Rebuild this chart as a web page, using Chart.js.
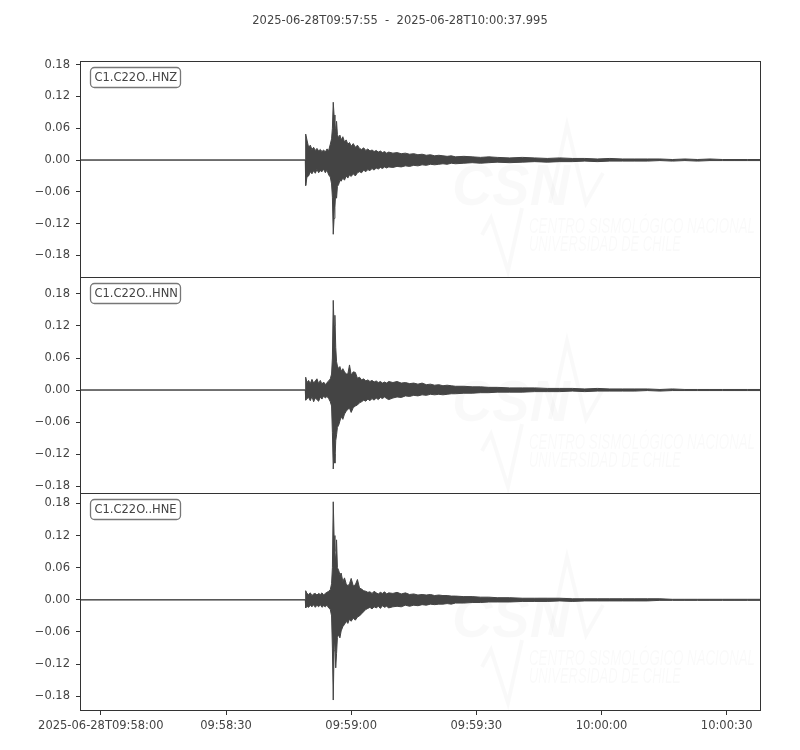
<!DOCTYPE html>
<html>
<head>
<meta charset="utf-8">
<script src="https://cdn.jsdelivr.net/npm/chart.js@4.4.0/dist/chart.umd.min.js"></script>
<style>
  body { margin: 0; background: #fff; }
  #wrap { position: relative; width: 800px; height: 750px; }
  #wrap canvas { position: absolute; left: 0; top: 0; }
</style>
</head>
<body>
<div id="wrap">
  <canvas id="hnz" width="800" height="750"></canvas>
  <canvas id="hnn" width="800" height="750"></canvas>
  <canvas id="hne" width="800" height="750"></canvas>
</div>
<script>
// seconds after 2025-06-28T09:57:55, envelope of each trace
const secs = [
  0, 54.0,
  54.1, 54.4,
  54.8, 55.2, 55.6, 56.0, 56.4, 56.8, 57.2, 57.6, 58.0, 58.4, 58.8, 59.2, 59.6, 60.0,
  60.3, 60.5, 60.7, 60.9, 61.1, 61.3, 61.5, 61.7,
  62.0, 62.3, 62.6,
  63.0, 63.4, 63.8, 64.2, 64.6, 65.0,
  65.5, 66.0, 66.5, 67.0, 67.5, 68.0, 68.5, 69.0, 69.5, 70.0, 70.5, 71.0, 71.5, 72.0, 72.5, 73.0, 73.5, 74.0,
  75, 76, 77, 78, 79, 80, 81, 82, 83, 84, 85, 86, 87, 88, 89, 90,
  92, 94, 96, 98, 100,
  103, 106, 109, 112, 115, 118, 121, 124, 127, 130, 133, 136, 139, 142, 145, 148, 151, 154, 157, 160, 163
];

const hnzHigh = [
  0, 0,
  0.049, 0.038,
  0.024, 0.028, 0.020, 0.024, 0.018, 0.022, 0.017, 0.020, 0.016, 0.019, 0.015, 0.021, 0.018, 0.030,
  0.040, 0.060, 0.109, 0.085, 0.050, 0.060, 0.073, 0.048,
  0.042, 0.047, 0.038,
  0.044, 0.034, 0.038, 0.030, 0.033, 0.026,
  0.031, 0.024, 0.028, 0.022, 0.020, 0.023, 0.018, 0.021, 0.017, 0.019, 0.016, 0.018, 0.015, 0.017, 0.014, 0.016, 0.013, 0.015,
  0.013, 0.014, 0.012, 0.013, 0.011, 0.012, 0.010, 0.011, 0.009, 0.010, 0.008, 0.009, 0.008, 0.007, 0.008, 0.006,
  0.007, 0.006, 0.005, 0.006, 0.005,
  0.004, 0.005, 0.004, 0.003, 0.004, 0.003, 0.003, 0.002, 0.003, 0.002, 0.002, 0.002, 0.002, 0.001, 0.002, 0.001, 0.002, 0.001, 0.001, 0.001, 0.001
];
const hnzLow = [
  0, 0,
  -0.048, -0.032,
  -0.030, -0.022, -0.026, -0.020, -0.025, -0.018, -0.024, -0.020, -0.022, -0.017, -0.024, -0.019, -0.028, -0.032,
  -0.045, -0.070, -0.140, -0.110, -0.090, -0.060, -0.072, -0.050,
  -0.046, -0.038, -0.040,
  -0.034, -0.038, -0.030, -0.034, -0.028, -0.031,
  -0.026, -0.030, -0.024, -0.022, -0.024, -0.019, -0.022, -0.018, -0.020, -0.016, -0.019, -0.015, -0.017, -0.014, -0.016, -0.013, -0.015, -0.013,
  -0.014, -0.012, -0.013, -0.011, -0.012, -0.010, -0.011, -0.009, -0.010, -0.008, -0.009, -0.008, -0.007, -0.008, -0.006, -0.007,
  -0.006, -0.005, -0.006, -0.005, -0.004,
  -0.005, -0.004, -0.003, -0.004, -0.003, -0.003, -0.002, -0.003, -0.002, -0.002, -0.002, -0.002, -0.001, -0.002, -0.001, -0.002, -0.001, -0.001, -0.001, -0.001, -0.001
];

const hnnHigh = [
  0, 0,
  0.024, 0.014,
  0.018, 0.012, 0.020, 0.013, 0.017, 0.021, 0.012, 0.018, 0.011, 0.015, 0.010, 0.014, 0.017, 0.021,
  0.030, 0.060, 0.168, 0.120, 0.140, 0.080, 0.053, 0.045,
  0.040, 0.044, 0.035,
  0.040, 0.034, 0.030, 0.030, 0.047, 0.028,
  0.034, 0.033, 0.022, 0.024, 0.019, 0.021, 0.017, 0.019, 0.016, 0.018, 0.015, 0.017, 0.014, 0.016, 0.013, 0.015, 0.013, 0.016,
  0.014, 0.016, 0.013, 0.014, 0.012, 0.013, 0.011, 0.013, 0.010, 0.011, 0.009, 0.010, 0.008, 0.009, 0.008, 0.007,
  0.007, 0.006, 0.006, 0.005, 0.005,
  0.004, 0.004, 0.004, 0.003, 0.003, 0.003, 0.002, 0.003, 0.002, 0.002, 0.002, 0.002, 0.001, 0.002, 0.001, 0.001, 0.001, 0.001, 0.001, 0.001, 0.001
];
const hnnLow = [
  0, 0,
  -0.019, -0.016,
  -0.014, -0.020, -0.012, -0.022, -0.015, -0.018, -0.021, -0.013, -0.017, -0.011, -0.015, -0.012, -0.016, -0.022,
  -0.030, -0.080, -0.148, -0.120, -0.137, -0.095, -0.084, -0.070,
  -0.066, -0.058, -0.050,
  -0.055, -0.045, -0.040, -0.036, -0.034, -0.042,
  -0.033, -0.030, -0.028, -0.024, -0.022, -0.019, -0.021, -0.017, -0.020, -0.016, -0.019, -0.015, -0.018, -0.014, -0.016, -0.013, -0.016, -0.018,
  -0.015, -0.013, -0.014, -0.011, -0.012, -0.010, -0.011, -0.009, -0.010, -0.008, -0.009, -0.008, -0.009, -0.008, -0.007, -0.007,
  -0.006, -0.006, -0.005, -0.005, -0.004,
  -0.004, -0.004, -0.003, -0.003, -0.003, -0.002, -0.003, -0.002, -0.002, -0.002, -0.002, -0.001, -0.002, -0.001, -0.001, -0.001, -0.001, -0.001, -0.001, -0.001, -0.001
];

const hneHigh = [
  0, 0,
  0.017, 0.012,
  0.010, 0.013, 0.008, 0.011, 0.012, 0.009, 0.012, 0.010, 0.013, 0.009, 0.012, 0.014, 0.016, 0.019,
  0.030, 0.060, 0.183, 0.120, 0.090, 0.070, 0.112, 0.060,
  0.055, 0.047, 0.050,
  0.034, 0.041, 0.030, 0.026, 0.030, 0.040,
  0.026, 0.028, 0.038, 0.022, 0.020, 0.017, 0.016, 0.014, 0.015, 0.012, 0.016, 0.013, 0.011, 0.014, 0.012, 0.015, 0.011, 0.013,
  0.012, 0.014, 0.011, 0.013, 0.010, 0.011, 0.009, 0.010, 0.009, 0.010, 0.008, 0.009, 0.008, 0.008, 0.007, 0.007,
  0.006, 0.006, 0.005, 0.005, 0.004,
  0.004, 0.003, 0.003, 0.003, 0.003, 0.002, 0.002, 0.002, 0.002, 0.002, 0.002, 0.002, 0.002, 0.001, 0.001, 0.001, 0.001, 0.001, 0.001, 0.001, 0.001
];
const hneLow = [
  0, 0,
  -0.015, -0.012,
  -0.014, -0.010, -0.013, -0.009, -0.014, -0.010, -0.013, -0.009, -0.014, -0.011, -0.013, -0.010, -0.015, -0.018,
  -0.030, -0.090, -0.187, -0.095, -0.080, -0.127, -0.100, -0.070,
  -0.065, -0.071, -0.058,
  -0.050, -0.046, -0.040, -0.044, -0.036, -0.040,
  -0.034, -0.038, -0.032, -0.030, -0.026, -0.022, -0.018, -0.016, -0.014, -0.017, -0.013, -0.015, -0.012, -0.016, -0.011, -0.014, -0.012, -0.015,
  -0.013, -0.012, -0.013, -0.010, -0.012, -0.010, -0.011, -0.009, -0.010, -0.008, -0.009, -0.008, -0.008, -0.007, -0.008, -0.006,
  -0.006, -0.005, -0.005, -0.004, -0.004,
  -0.004, -0.003, -0.003, -0.003, -0.002, -0.003, -0.002, -0.002, -0.002, -0.002, -0.002, -0.002, -0.001, -0.001, -0.001, -0.001, -0.001, -0.001, -0.001, -0.001, -0.001
];

const timeTicks = [5, 35, 65, 95, 125, 155];
const timeLabels = ['2025-06-28T09:58:00', '09:58:30', '09:59:00', '09:59:30', '10:00:00', '10:00:30'];
const ampTicks = [-0.18, -0.12, -0.06, 0, 0.06, 0.12, 0.18];
const titleText = '2025-06-28T09:57:55  -  2025-06-28T10:00:37.995';

const INK = '#444';
const FONT_FAMILY = '"DejaVu Sans", sans-serif';
const FONT_SIZE = 11.5;

function pts(ys) {
  return secs.map((t, i) => ({ x: t, y: ys[i] }));
}

function fmtAmp(v) {
  if (Math.abs(v) < 1e-9) return '0.00';
  return (v < 0 ? '\u2212' : '') + Math.abs(v).toFixed(2);
}

function fitText(ctx, text, x, y, width) {
  const w = ctx.measureText(text).width;
  ctx.save();
  ctx.translate(x, y);
  ctx.scale(width / w, 1);
  ctx.fillText(text, 0, 0);
  ctx.restore();
}

// frame, station label, faint logo and title
const panelDeco = {
  id: 'panelDeco',
  beforeDatasetsDraw(chart) {
    const { ctx, chartArea: a } = chart;
    const T = a.top;
    ctx.save();
    ctx.beginPath();
    ctx.rect(a.left, a.top, a.width, a.height);
    ctx.clip();
    ctx.fillStyle = 'rgba(0,0,0,0.022)';
    ctx.strokeStyle = 'rgba(0,0,0,0.022)';
    ctx.font = 'italic bold 58px "Liberation Sans", sans-serif';
    ctx.textBaseline = 'alphabetic';
    fitText(ctx, 'CSN', 452, T + 144, 118);
    ctx.font = 'italic 22px "Liberation Sans Narrow", "Liberation Sans", sans-serif';
    fitText(ctx, 'CENTRO SISMOLÓGICO NACIONAL', 529, T + 172, 226);
    fitText(ctx, 'UNIVERSIDAD DE CHILE', 529, T + 190, 152);
    ctx.lineWidth = 4;
    ctx.beginPath();
    ctx.moveTo(550, T + 142); ctx.lineTo(567, T + 64); ctx.lineTo(586, T + 142); ctx.lineTo(603, T + 112);
    ctx.stroke();
    ctx.beginPath();
    ctx.moveTo(482, T + 174); ctx.lineTo(491, T + 157); ctx.lineTo(508, T + 210); ctx.lineTo(522, T + 147);
    ctx.stroke();
    ctx.restore();
  },
  afterDraw(chart, args, opts) {
    const { ctx, chartArea: a } = chart;
    ctx.save();
    ctx.strokeStyle = '#333';
    ctx.lineWidth = 1;
    ctx.strokeRect(a.left + 0.5, a.top + 0.5, a.width, a.height);

    ctx.strokeStyle = '#777';
    ctx.lineWidth = 1.3;
    ctx.beginPath();
    if (ctx.roundRect) ctx.roundRect(90.5, a.top + 6.5, 90, 20, 4);
    else ctx.rect(90.5, a.top + 6.5, 90, 20);
    ctx.stroke();
    ctx.fillStyle = INK;
    ctx.font = FONT_SIZE + 'px ' + FONT_FAMILY;
    ctx.textBaseline = 'middle';
    ctx.textAlign = 'left';
    ctx.fillText(opts.label, 94.5, a.top + 16.8);

    if (opts.title) {
      ctx.textAlign = 'center';
      ctx.fillText(titleText, 400, 21);
    }
    ctx.restore();
  }
};

function makeChart(id, label, hi, lo, yMin, yMax, padTop, padBottom, showTime) {
  return new Chart(document.getElementById(id), {
    type: 'line',
    data: {
      datasets: [
        { data: pts(hi), borderColor: INK, backgroundColor: INK, borderWidth: 1, pointRadius: 0, fill: '+1' },
        { data: pts(lo), borderColor: INK, backgroundColor: INK, borderWidth: 1, pointRadius: 0, fill: false }
      ]
    },
    options: {
      responsive: false,
      animation: false,
      events: [],
      layout: { padding: { top: padTop, bottom: padBottom, left: 0, right: 40 } },
      plugins: {
        legend: { display: false },
        tooltip: { enabled: false },
        panelDeco: { label: label, title: id === 'hnz' }
      },
      scales: {
        x: {
          type: 'linear',
          min: 0,
          max: 162.995,
          display: showTime,
          afterBuildTicks: s => { s.ticks = timeTicks.map(v => ({ value: v })); },
          afterFit: s => { s.height = showTime ? 40 : 0; },
          ticks: {
            color: INK,
            font: { family: FONT_FAMILY, size: FONT_SIZE },
            padding: 4,
            maxRotation: 0,
            autoSkip: false,
            callback: v => timeLabels[timeTicks.indexOf(v)]
          },
          grid: { drawOnChartArea: false, tickLength: 5, color: '#333' },
          border: { display: false }
        },
        y: {
          min: yMin,
          max: yMax,
          afterBuildTicks: s => { s.ticks = ampTicks.map(v => ({ value: v })); },
          afterFit: s => { s.width = 80; },
          ticks: {
            color: INK,
            font: { family: FONT_FAMILY, size: FONT_SIZE },
            padding: 6,
            callback: v => fmtAmp(v)
          },
          grid: { drawOnChartArea: false, tickLength: 4, color: '#333' },
          border: { display: false }
        }
      }
    },
    plugins: [panelDeco]
  });
}

makeChart('hnz', 'C1.C22O..HNZ', hnzHigh, hnzLow, -0.2206, 0.1868, 61, 473, false);
makeChart('hnn', 'C1.C22O..HNN', hnnHigh, hnnLow, -0.193, 0.2118, 277, 257, false);
makeChart('hne', 'C1.C22O..HNE', hneHigh, hneLow, -0.2056, 0.1994, 493, 0, true);
</script>
</body>
</html>
